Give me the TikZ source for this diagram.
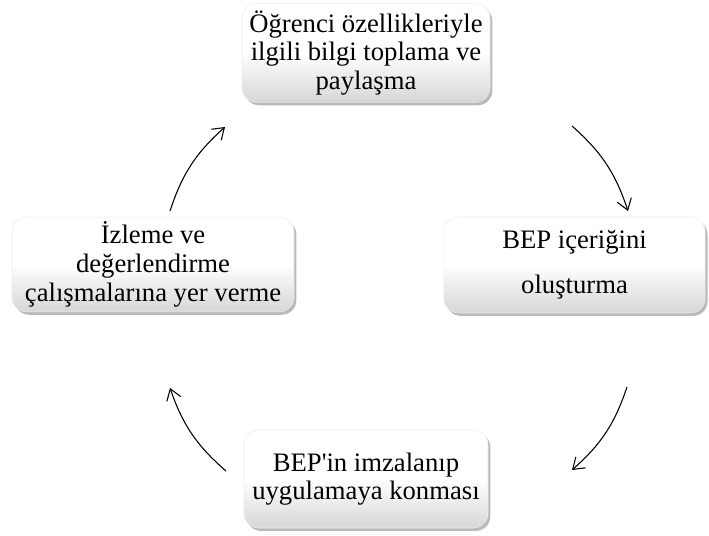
\documentclass[tikz,border=0pt]{standalone}
\usepackage{fontspec}
\setmainfont{Liberation Serif}[Ligatures=TeXOff]
\usepackage{tikz}
\usetikzlibrary{arrows.meta,shadows}

\begin{document}
\begin{tikzpicture}[x=0.75pt,y=0.75pt,
    stepbox/.style={rounded corners=11pt, draw=black!8, align=center, inner sep=0pt,
        top color=white, bottom color=black!16, middle color=white,
        drop shadow={shadow xshift=1.8pt, shadow yshift=-2.2pt, fill=black!45, opacity=0.6},
        font=\fontsize{20}{21.5}\selectfont},
    cyc/.style={line width=0.8pt, -{Straight Barb[length=8pt,width=11pt]}, bend left=15}]
   \useasboundingbox (0,0) rectangle (709,535);

   % the four steps
   \node[stepbox, minimum width=186pt, minimum height=74pt] (bilgi) at (366,482)
        {Öğrenci özellikleriyle\\ilgili bilgi toplama ve\\paylaşma};
   \node[stepbox, minimum width=196pt, minimum height=72pt] (icerik) at (574.5,270)
        {BEP içeriğini\\[12pt]oluşturma};
   \node[stepbox, minimum width=183pt, minimum height=73.5pt] (imza) at (366,56)
        {BEP'in imzalanıp\\uygulamaya konması};
   \node[stepbox, minimum width=211.5pt, minimum height=71pt] (izleme) at (153,270.5)
        {İzleme ve\\değerlendirme\\çalışmalarına yer verme};

   % arrow ends
   \coordinate (bilgi-out) at (572,409);
   \coordinate (icerik-in) at (628,324);
   \coordinate (icerik-out) at (627,148);
   \coordinate (imza-in) at (572,65);
   \coordinate (imza-out) at (226,64);
   \coordinate (izleme-in) at (170,147);
   \coordinate (izleme-out) at (170,324);
   \coordinate (bilgi-in) at (225,408);

   \draw[cyc] (bilgi-out) to (icerik-in);
   \draw[cyc] (icerik-out) to (imza-in);
   \draw[cyc] (imza-out) to (izleme-in);
   \draw[cyc] (izleme-out) to (bilgi-in);
\end{tikzpicture}
\end{document}
